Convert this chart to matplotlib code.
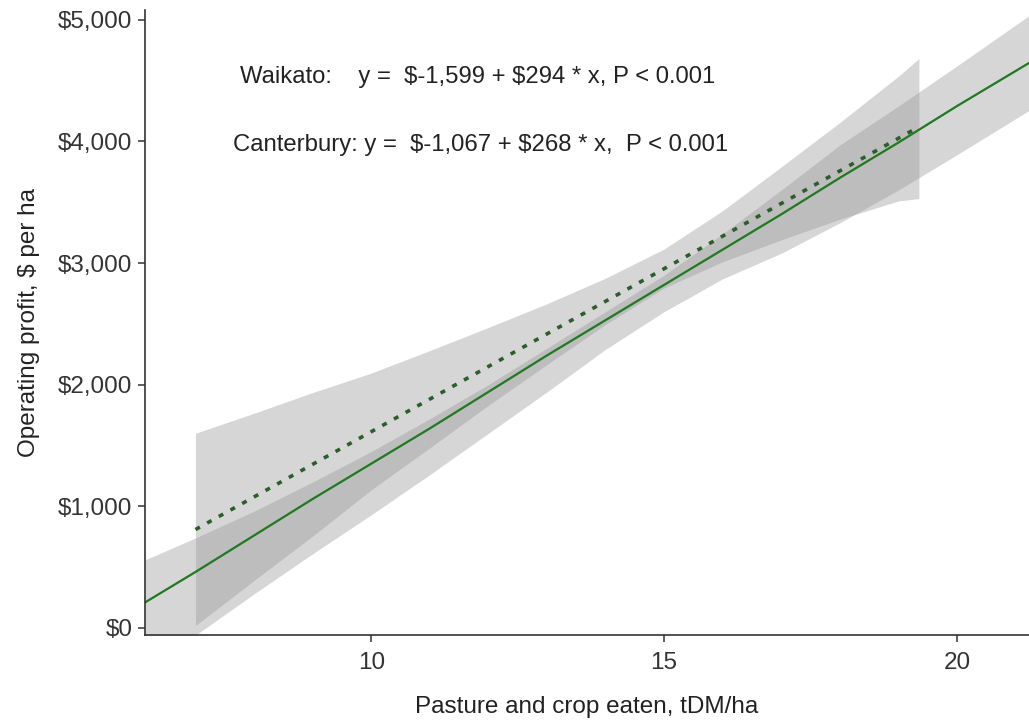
import matplotlib
matplotlib.use("Agg")
import matplotlib.pyplot as plt

plt.rcParams['font.family'] = ['Liberation Sans', 'DejaVu Sans']

# Waikato fit (solid) and its band
wai_x = [6.14, 7, 8, 9, 10, 11, 12, 13, 14, 15, 16, 17, 18, 19, 20, 21.25]
wai_fit = [210, 460, 760, 1060, 1350, 1640, 1940, 2240, 2530, 2820, 3110, 3400, 3700, 3990, 4290, 4650]
wai_lo = [-330, -60, 280, 610, 930, 1260, 1600, 1940, 2290, 2600, 2870, 3080, 3330, 3600, 3890, 4260]
wai_hi = [560, 740, 960, 1200, 1450, 1720, 2000, 2300, 2600, 2900, 3240, 3600, 3970, 4290, 4620, 5040]

# Canterbury fit (dotted) and its band
can_x = [7, 8, 9, 10, 11, 12, 13, 14, 15, 16, 17, 18, 19, 19.35]
can_fit = [809, 1077, 1345, 1613, 1881, 2149, 2417, 2685, 2953, 3221, 3489, 3757, 4025, 4119]
can_lo = [20, 390, 755, 1135, 1480, 1830, 2165, 2495, 2795, 3010, 3190, 3360, 3510, 3530]
can_hi = [1600, 1765, 1935, 2095, 2280, 2470, 2665, 2875, 3115, 3430, 3790, 4155, 4535, 4680]

y_ticks = [0, 1000, 2000, 3000, 4000, 5000]
x_ticks = [10, 15, 20]

fig = plt.figure(figsize=(10.29, 7.22), dpi=100)
ax = fig.add_axes([0.141, 0.1205, 0.859, 0.866])

ax.fill_between(wai_x, wai_lo, wai_hi, color='#999999', alpha=0.4, linewidth=0)
ax.fill_between(can_x, can_lo, can_hi, color='#999999', alpha=0.4, linewidth=0)
ax.plot(wai_x, wai_fit, color='#1f7a1f', lw=1.6)
ax.plot(can_x, can_fit, color='#2c5e2c', lw=2.6, linestyle=(0, (1.4, 2.3)))

ax.text(7.76, 4531, r'Waikato:    y =  \$-1,599 + \$294 * x, P < 0.001',
        ha='left', va='center', fontsize=17.2, color='#222222')
ax.text(7.64, 3972, r'Canterbury: y =  \$-1,067 + \$268 * x,  P < 0.001',
        ha='left', va='center', fontsize=17.2, color='#222222')

ax.set_xlim(6.14, 21.23)
ax.set_ylim(-58, 5082)
ax.set_xticks(x_ticks)
ax.set_yticks(y_ticks)
ax.set_yticklabels(['$' + format(v, ',') for v in y_ticks])

for s in ['top', 'right']:
    ax.spines[s].set_visible(False)
for s in ['left', 'bottom']:
    ax.spines[s].set_color('#333333')
    ax.spines[s].set_linewidth(1.2)
ax.tick_params(length=5, width=1.1, color='#333333', labelsize=17.5,
               labelcolor='#333333')
ax.tick_params(axis='y', pad=4)
ax.tick_params(axis='x', pad=7)

ax.set_xlabel('Pasture and crop eaten, tDM/ha', fontsize=17.5, color='#222222', labelpad=16)
ax.set_ylabel('Operating profit, $ per ha', fontsize=17.5, color='#222222', labelpad=13)

fig.savefig('out.png', dpi=100)
